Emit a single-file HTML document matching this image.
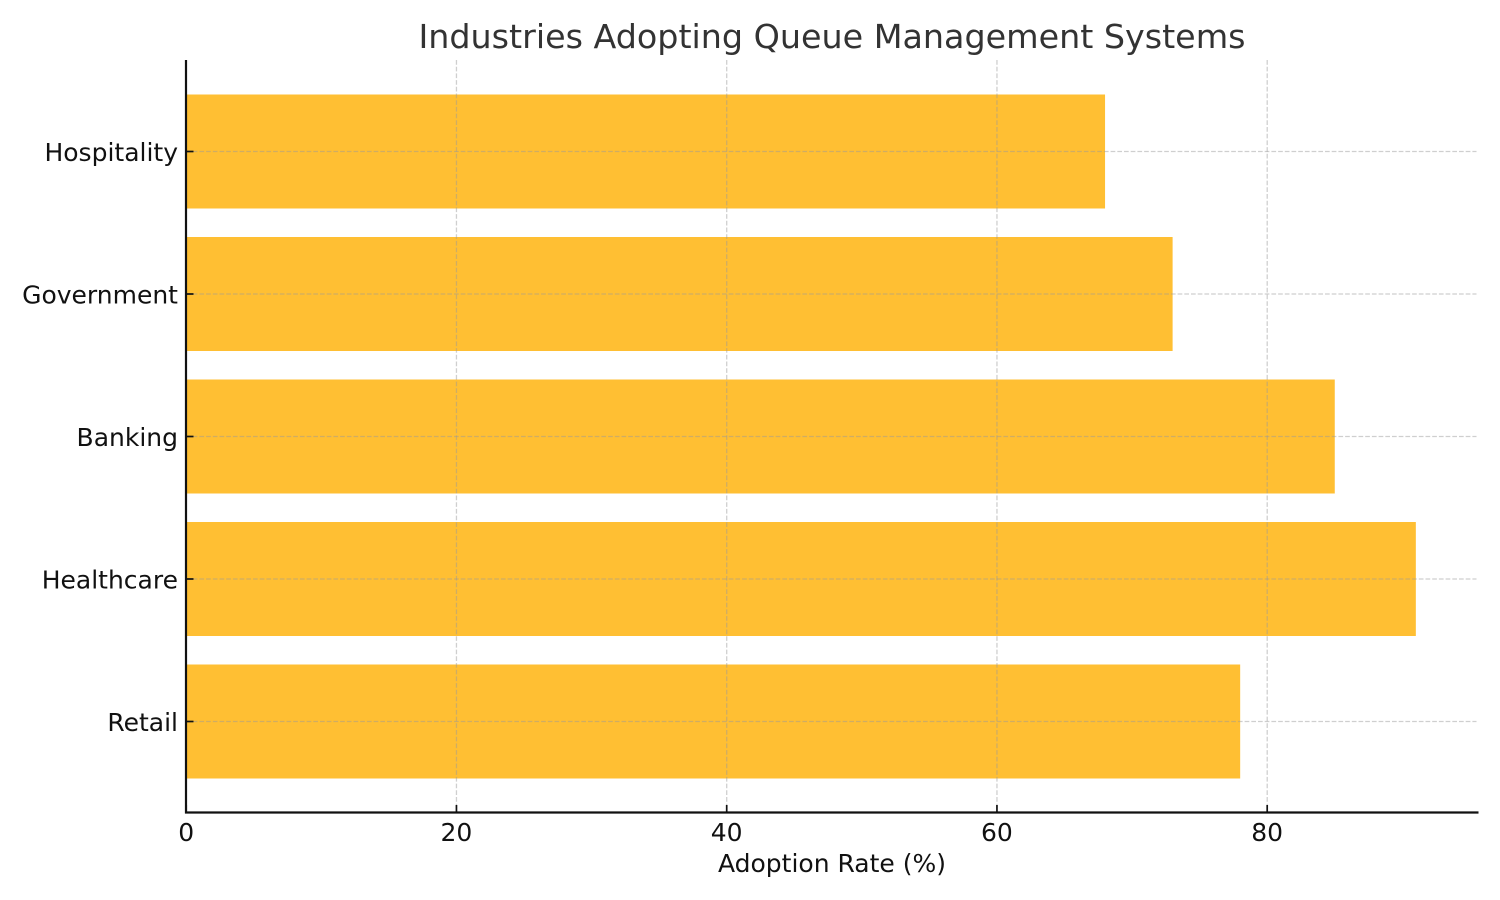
<!DOCTYPE html>
<html>
<head>
<meta charset="utf-8">
<style>
html,body{margin:0;padding:0;background:#fff;}
svg{display:block;}
text{font-family:"DejaVu Sans","Liberation Sans",sans-serif;fill:#111;}
</style>
</head>
<body>
<svg id="chart" width="1500" height="900" viewBox="0 0 1500 900" xmlns="http://www.w3.org/2000/svg">
<text x="832" y="48" text-anchor="middle" font-size="33.35" style="fill:#333">Industries Adopting Queue Management Systems</text>
<text x="832" y="872" text-anchor="middle" font-size="25">Adoption Rate (%)</text>
</svg>
<script>
const categories = ["Retail", "Healthcare", "Banking", "Government", "Hospitality"];
const adoptionRates = [78, 91, 85, 73, 68];
const xTickValues = [0, 20, 40, 60, 80];

const NS = "http://www.w3.org/2000/svg";
const svg = document.getElementById("chart");
const xScale = v => 186.2 + v * 13.5125;
const yScale = i => 721.5 - i * 142.5;
const barHeight = 114;

function add(tag, attrs, text) {
  const el = document.createElementNS(NS, tag);
  for (const k in attrs) el.setAttribute(k, attrs[k]);
  if (text !== undefined) el.textContent = text;
  svg.appendChild(el);
  return el;
}

categories.forEach((c, i) => {
  const bar = add("rect", {x: xScale(0), y: yScale(i) - barHeight / 2, width: xScale(adoptionRates[i]) - xScale(0), height: barHeight, fill: "#ffbf33"});
  
  
});

xTickValues.forEach(v => {
  if (v === 0) return;
  const g = add("line", {x1: xScale(v), x2: xScale(v), y1: 60, y2: 812, stroke: "#999", "stroke-opacity": 0.47, "stroke-width": 1.3, "stroke-dasharray": "4.7 2"});
  
  
});

categories.forEach((c, i) => {
  const g = add("line", {x1: 186, x2: 1476.5, y1: yScale(i), y2: yScale(i), stroke: "#999", "stroke-opacity": 0.47, "stroke-width": 1.3, "stroke-dasharray": "4.7 2"});
  
  
  const t = add("line", {x1: 186, x2: 193.5, y1: yScale(i), y2: yScale(i), stroke: "#111", "stroke-width": 1.7});
  
  
  const l = add("text", {x: 178, y: yScale(i) + 9.5, "text-anchor": "end", "font-size": 25}, c);
  
  
});

xTickValues.forEach(v => {
  const t = add("line", {x1: xScale(v), x2: xScale(v), y1: 805, y2: 812, stroke: "#111", "stroke-width": 1.7});
  
  
  const l = add("text", {x: xScale(v), y: 841, "text-anchor": "middle", "font-size": 25}, String(v));
  
  
});

const ySpine = add("line", {x1: 186, x2: 186, y1: 60, y2: 813.5, stroke: "#111", "stroke-width": 2.2});


const xSpine = add("line", {x1: 185, x2: 1478.5, y1: 812.5, y2: 812.5, stroke: "#111", "stroke-width": 2.2});


</script>
</body>
</html>
